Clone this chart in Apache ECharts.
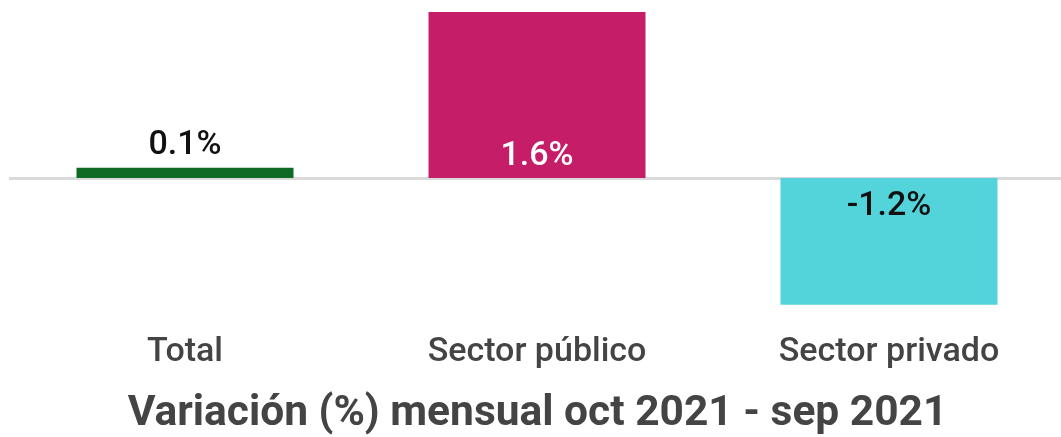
<!DOCTYPE html>
<html>
<head>
<meta charset="utf-8">
<script src="https://cdn.jsdelivr.net/npm/echarts@6/dist/echarts.min.js"></script>
<style>
  html, body { margin: 0; padding: 0; background: #ffffff; overflow: hidden; }
  #chart { width: 1075px; height: 437px; }
</style>
</head>
<body>
<div id="chart"></div>
<script>
// ---- data ----
const categories = ['Total', 'Sector público', 'Sector privado'];
const values = [0.1, 1.6, -1.22];
const barColors = ['#0d6b23', '#c51d67', '#53d4da'];
const labelTexts = ['0.1%', '1.6%', '-1.2%'];
const titleText = 'Variación (%) mensual oct 2021 - sep 2021';

const FONT = 'Roboto, "Noto Sans", sans-serif';
const labelSpecs = [
  { position: 'top', distance: 5, color: '#111111' },
  { position: 'insideBottom', distance: 5, color: '#ffffff' },
  { position: 'insideTop', distance: 11, color: '#111111' }
];

const seriesData = values.map((v, i) => ({
  value: v,
  itemStyle: { color: barColors[i] },
  label: {
    show: true,
    position: labelSpecs[i].position,
    distance: labelSpecs[i].distance,
    color: labelSpecs[i].color,
    formatter: () => labelTexts[i]
  }
}));

const chart = echarts.init(document.getElementById('chart'), null, { renderer: 'canvas' });
chart.setOption({
  animation: false,
  backgroundColor: '#ffffff',
  title: {
    text: titleText,
    left: 'center',
    top: 388,
    textStyle: { fontFamily: FONT, fontSize: 42.5, fontWeight: 'bold', color: '#444444' }
  },
  grid: { left: 9, width: 1056, top: 12, bottom: 124, containLabel: false },
  xAxis: {
    type: 'category',
    data: categories,
    axisLine: { show: false, onZero: false },
    axisTick: { show: false },
    axisLabel: { margin: 22, fontFamily: FONT, fontSize: 34, fontWeight: 500, color: '#444444' },
    splitLine: { show: false }
  },
  yAxis: {
    type: 'value',
    min: -1.3,
    max: 1.6,
    show: false
  },
  series: [{
    type: 'bar',
    barWidth: 217,
    data: seriesData,
    label: { fontFamily: FONT, fontSize: 34, fontWeight: 500 },
    markLine: {
      silent: true,
      symbol: ['none', 'none'],
      label: { show: false },
      lineStyle: { color: '#d9d9d9', width: 3, type: 'solid' },
      data: [{ yAxis: 0 }],
      z: 1
    }
  }]
});
</script>
</body>
</html>
